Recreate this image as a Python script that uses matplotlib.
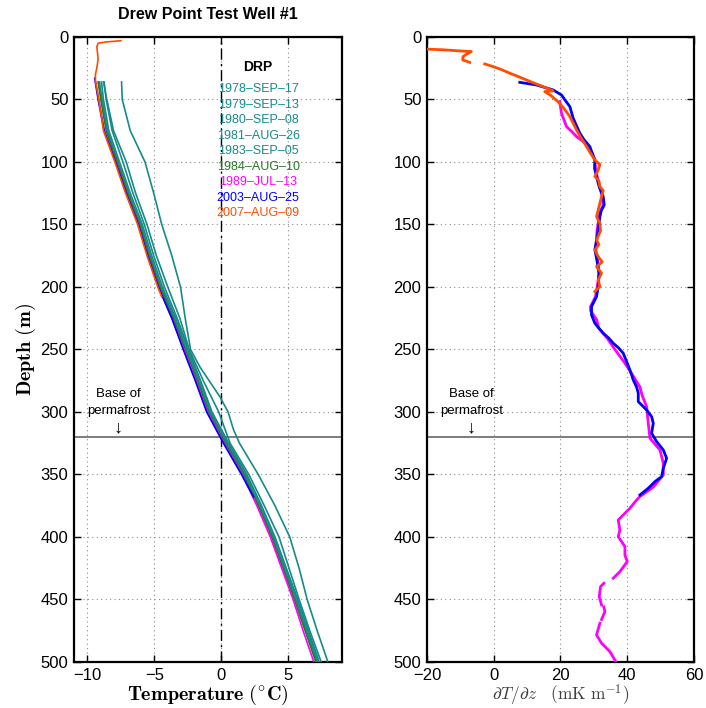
import numpy as np
import matplotlib
matplotlib.use('Agg')
import matplotlib.pyplot as plt

plt.rcParams['font.family'] = ['Liberation Sans', 'DejaVu Sans']
plt.rcParams['mathtext.fontset'] = 'cm'

nan = np.nan

# ---- temperature profiles, Drew Point test well (depth in m, T in degC)
labels = ['1978–SEP–17', '1979–SEP–13', '1980–SEP–08', '1981–AUG–26', '1983–SEP–05',
          '1984–AUG–10', '1989–JUL–13', '2003–AUG–25', '2007–AUG–09']
colors = ['#178a8a', '#178a8a', '#178a8a', '#178a8a', '#178a8a',
          '#237a23', '#ff00ff', '#0000ff', '#ff4d00']

z1978 = [36, 50, 75, 100, 125, 150, 175, 200, 225, 250, 264, 280, 288, 300, 314, 325,
         350, 375, 400, 425, 450, 475, 500]
t1978 = [-7.45, -7.4, -6.8, -5.7, -5.05, -4.45, -3.7, -3.05, -2.7, -2.3, -1.6, -0.6, -0.1,
         0.5, 0.9, 1.35, 2.75, 4.0, 5.1, 5.8, 6.4, 7.15, 7.95]

zstd = [36, 50, 75, 100, 125, 150, 175, 200, 225, 250, 275, 300, 325, 350, 375, 400,
        425, 450, 475, 500]
t1979 = [-8.8, -8.55, -8.05, -7.1, -6.4, -5.55, -4.85, -4.0, -3.1, -2.4, -1.35, -0.2,
         0.65, 2.05, 3.2, 4.3, 5.05, 5.8, 6.6, 7.45]
t1980 = [-8.75, -8.6, -8.15, -7.35, -6.6, -5.75, -5.05, -4.25, -3.3, -2.45, -1.55, -0.7,
         0.55, 1.9, 3.0, 4.0, 4.85, 5.7, 6.5, 7.3]
t1981 = [-8.95, -8.8, -8.4, -7.6, -6.8, -5.9, -5.2, -4.4, -3.4, -2.5, -1.6, -0.75,
         0.5, 1.85, 2.95, 3.95, 4.8, 5.65, 6.45, 7.25]
t1983 = [-9.1, -8.9, -8.5, -7.7, -6.9, -6.0, -5.3, -4.5, -3.5, -2.6, -1.7, -0.85,
         0.4, 1.75, 2.85, 3.85, 4.7, 5.55, 6.35, 7.15]
t1984 = [-9.2, -9.0, -8.6, -7.8, -7.0, -6.1, -5.4, -4.6, -3.6, -2.7, -1.8, -0.95,
         0.3, 1.65, 2.75, 3.75, 4.6, 5.45, 6.25, 7.05]
t1989 = [-9.4, -9.15, -8.75, -7.9, -7.1, -6.2, -5.5, -4.7, -3.7, -2.8, -1.9, -1.05,
         0.2, 1.55, 2.65, 3.65, 4.5, 5.35, 6.1, 6.9]

z2003 = [33, 50, 75, 100, 125, 150, 175, 200, 225, 250, 275, 300, 325, 350, 368]
t2003 = [-9.45, -9.2, -8.75, -7.9, -7.1, -6.2, -5.5, -4.7, -3.7, -2.85, -1.95, -1.1,
         0.15, 1.5, 2.4]

z2007 = [3, 4, 5, 8, 12, 18, 25, 30, 35, 50, 75, 100, 125, 150, 175, 200, 208]
t2007 = [-7.5, -8.6, -9.2, -9.3, -9.25, -9.2, -9.3, -9.4, -9.4, -9.15, -8.8, -7.95,
         -7.15, -6.25, -5.55, -4.75, -4.45]

profiles = [(z1978, t1978), (zstd, t1979), (zstd, t1980), (zstd, t1981), (zstd, t1983),
            (zstd, t1984), (zstd, t1989), (z2003, t2003), (z2007, t2007)]

# ---- geothermal gradient (mK/m)
gz1989 = [51.7, 56, 61, 66, 71.7, 76, 79.7, 83.7, 88, 93, 98.4, 105, 111.7, 120, 127.7,
          134.4, 139, 143.7, 154, 160, 170, 180, 189, 199.7, 207.7, 215.7, 219, 226, 233,
          241, 250, 261, 270, 280, 287, 295.7, 309, 321, 330.4, 341, 350.4, 360, 367.7,
          370.4, 377, 386.4, 394.4, 399.7, 407.7, 414.4, 419.7, 427.7, 433, nan, 437,
          439.7, 447.7, 454.4, nan, 456, 459.7, 466, nan, 469, 478.4, 485, 491.7, 498.4, 502]
gg1989 = [19.8, 20.0, 20.3, 21.0, 21.8, 23.5, 24.8, 26.8, 28.5, 29.5, 30.3, 30.5, 31.0,
          31.8, 32.5, 32.8, 32.0, 31.6, 31.0, 30.8, 30.6, 31.2, 31.6, 31.0, 30.5, 29.0,
          29.0, 30.8, 31.5, 34.0, 36.3, 39.3, 41.5, 43.8, 44.5, 45.8, 46.3, 46.8, 49.8,
          50.8, 50.8, 47.8, 43.8, 42.8, 40.8, 37.3, 37.8, 37.3, 39.3, 39.3, 40.0, 37.8,
          35.8, nan, 33.0, 32.0, 31.6, 32.3, nan, 33.0, 33.3, 32.3, nan, 31.8, 30.8, 32.3,
          34.8, 36.3, 37.0]

gz2003 = [36.3, 38.4, 42.4, 46.4, 51, 55.7, 65, 71, 77, 82, 87.7, 93, 98.4, 105, 111.7,
          120, 127.7, 134.4, 139, 143.7, 154, 160, 170, 180, 189, 199.7, 207.7, 215.7,
          222.4, 229, 233, 237, 241, 245, 249, 253, 261, 266.4, 274.4, 280, 285, 291.7,
          298.4, 303.7, 309, 317, 323.7, 330.4, 337, 345, 351.7, 355.7, 361, 366.4]
gg2003 = [7.8, 12.8, 17.8, 20.3, 21.5, 22.8, 23.8, 24.8, 25.8, 27.0, 28.8, 29.5, 30.3,
          30.2, 30.8, 31.6, 32.8, 33.1, 32.2, 31.8, 31.3, 31.0, 30.3, 31.0, 31.5, 31.3,
          30.8, 29.3, 29.3, 30.3, 31.5, 32.8, 34.5, 35.8, 37.5, 38.8, 40.0, 40.8, 41.8,
          42.8, 43.3, 43.3, 45.8, 47.3, 47.8, 47.3, 48.8, 50.8, 51.8, 50.8, 50.3, 48.3,
          46.3, 43.8]

gz2007 = [9.6, 10.3, 11.2, 11.7, 13.5, 15.7, 18.4, 20.3, nan, 21.6, 23.7, 26, 29, 31.5,
          34.4, 37, 39.7, 42, 43.2, 43.7, 47, 51.7, 57, 63.7, 69, 74.4, 80, 87.7, 93, 98.4,
          102, 106.4, 111.7, 115, 119.7, 123, 127.7, 133, 138.4, 143.7, 149, 155, 162.4,
          166, 170.4, 175.7, 180, 183.7, 189, 194.4, 199.7, 203.7]
gg2007 = [-21, -15, -10, -6.7, -8, -9.2, -9.3, -7.2, nan, -2.7, -0.2, 2.2, 4.8, 7.2, 9.8,
          12.2, 14.8, 16.8, 17.8, 15.3, 17.2, 19.2, 21.0, 22.8, 23.8, 24.8, 26.0, 27.8,
          29.0, 30.3, 31.8, 31.3, 30.3, 31.5, 31.8, 32.8, 32.3, 31.8, 31.3, 30.8, 31.8,
          32.0, 30.8, 31.5, 30.3, 31.3, 32.5, 30.8, 32.3, 31.3, 31.8, 30.3]

gradients = [(gz1989, gg1989, '#ff00ff'), (gz2003, gg2003, '#0000ff'),
             (gz2007, gg2007, '#ff4d00')]

permafrost_base = 320

fig = plt.figure(figsize=(7.06, 7.08), dpi=100)
ax1 = fig.add_axes([0.1048, 0.0650, 0.3796, 0.8828])
ax2 = fig.add_axes([0.6048, 0.0650, 0.3782, 0.8828])


def style(ax):
    ax.set_ylim(500, 0)
    ax.set_yticks(np.arange(0, 501, 50))
    ax.grid(True, linestyle=(0, (1, 3)), color='0.55', linewidth=0.8)
    ax.tick_params(direction='in', top=True, right=True, length=5, width=1,
                   labelsize=12, pad=4)
    for s in ax.spines.values():
        s.set_linewidth(1.6)
    ax.axhline(permafrost_base, color='0.4', lw=1.2, zorder=1)


# left: temperature
for (z, t), c in zip(profiles, colors):
    ax1.plot(t, z, color=c, lw=1.2, zorder=3)
ax1.axvline(0, color='k', lw=1, linestyle=(0, (8, 3, 1.5, 3)), zorder=2)
ax1.set_xlim(-11, 9)
ax1.set_xticks([-10, -5, 0, 5])
ax1.set_xticklabels(['−10', '−5', '0', '5'])
style(ax1)
ax1.set_title('Drew Point Test Well #1', fontsize=11.5, fontweight='bold', pad=13)
ax1.set_xlabel(r'$\mathbf{Temperature\ (^{\circ}C)}$', fontsize=14.5, labelpad=0)
ax1.set_ylabel(r'$\mathbf{Depth\ (m)}$', fontsize=14.5, labelpad=2)

ax1.text(0.687, 0.952, 'DRP', transform=ax1.transAxes, ha='center', va='center',
         fontsize=10, fontweight='bold')
for i, (lab, c) in enumerate(zip(labels, colors)):
    ax1.text(0.687, 0.916 - i * 0.0248, lab, transform=ax1.transAxes, ha='center',
             va='center', fontsize=9, color=c)

# right: gradient
for z, g, c in gradients:
    ax2.plot(g, z, color=c, lw=2, zorder=3)
ax2.set_xlim(-20, 60)
ax2.set_xticks([-20, 0, 20, 40, 60])
ax2.set_xticklabels(['−20', '0', '20', '40', '60'])
style(ax2)
ax2.set_xlabel(r'$\partial T/\partial z\quad(\mathrm{mK\ m^{-1}})$', fontsize=12.5,
               labelpad=0, color='0.25')

for ax, xc in [(ax1, -7.7), (ax2, -6.7)]:
    ax.text(xc, 286, 'Base of', ha='center', va='center', fontsize=9.5)
    ax.text(xc, 299, 'permafrost', ha='center', va='center', fontsize=9.5)
    ax.text(xc, 313, '↓', ha='center', va='center', fontsize=13)

fig.savefig('out.png', dpi=100)
